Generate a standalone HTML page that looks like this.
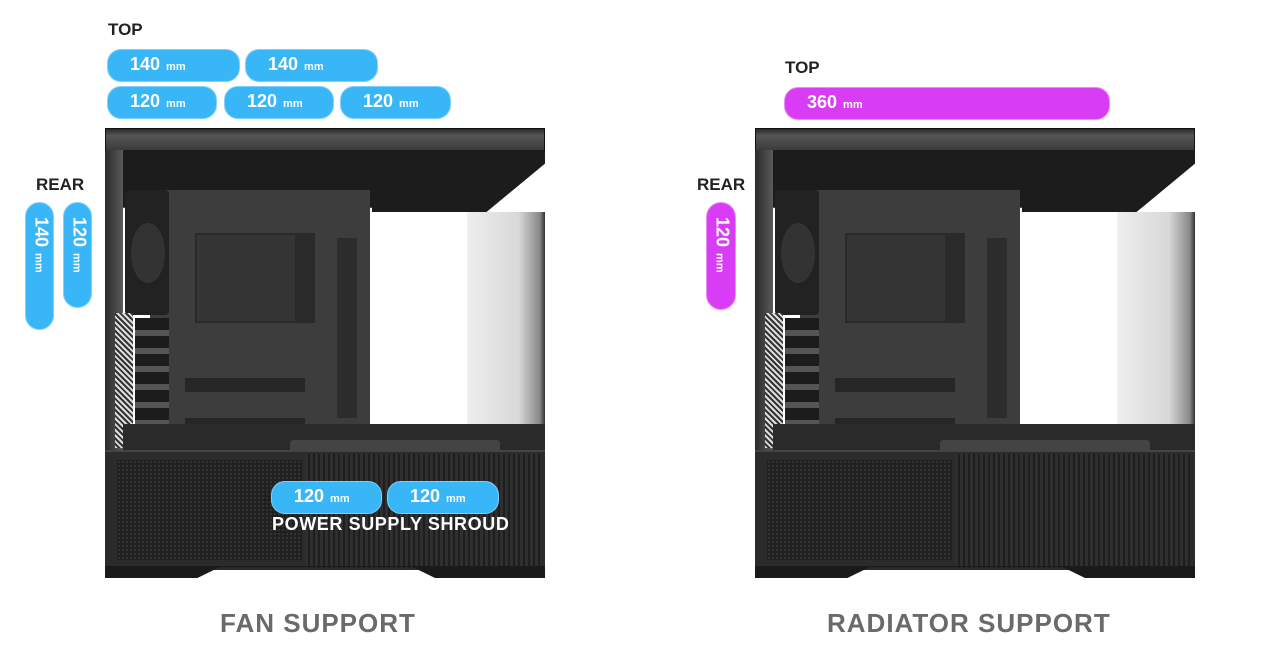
<!DOCTYPE html>
<html><head><meta charset="utf-8"><style>
*{margin:0;padding:0;box-sizing:border-box}
body{width:1280px;height:658px;background:#fff;position:relative;overflow:hidden;font-family:"Liberation Sans",Arial,sans-serif}
.a{position:absolute}
.lbl{position:absolute;font-weight:bold;font-size:17px;color:#222}
.pill{position:absolute;background:#38b6f8;border-radius:14px;color:#fff;font-weight:bold;font-size:18px;line-height:28px;padding-left:22px;border:1px solid #7fd0fb}
.pill small{font-size:11px;margin-left:6px}
.vp{position:absolute;background:#38b6f8;border-radius:15px;border:1px solid #7fd0fb}
.vp span{position:absolute;left:50%;top:14px;transform-origin:0 0;transform:rotate(90deg) translateY(-50%);white-space:nowrap;color:#fff;font-weight:bold;font-size:18px;line-height:20px}
.vp span small{font-size:11px;margin-left:6px}
.case{position:absolute;top:128px;width:440px;height:452px}
.big{position:absolute;top:608px;font-size:26px;font-weight:bold;color:#6a6a6a;letter-spacing:1px}
</style></head><body>

<div class="lbl" style="left:108px;top:20px">TOP</div>
<div class="pill" style="left:107px;top:49px;width:133px">140<small>mm</small></div>
<div class="pill" style="left:245px;top:49px;width:133px">140<small>mm</small></div>
<div class="pill" style="left:107px;top:86px;width:110px">120<small>mm</small></div>
<div class="pill" style="left:224px;top:86px;width:110px">120<small>mm</small></div>
<div class="pill" style="left:340px;top:86px;width:111px">120<small>mm</small></div>
<div class="lbl" style="left:36px;top:175px">REAR</div>
<div class="vp" style="left:25px;top:202px;width:29px;height:128px"><span>140<small>mm</small></span></div>
<div class="vp" style="left:63px;top:202px;width:29px;height:106px"><span>120<small>mm</small></span></div>

<div class="lbl" style="left:785px;top:58px">TOP</div>
<div class="pill" style="left:784px;top:87px;width:326px;background:#d93cf5;border-color:#e98cfa">360<small>mm</small></div>
<div class="lbl" style="left:697px;top:175px">REAR</div>
<div class="vp" style="left:706px;top:202px;width:30px;height:108px;background:#d93cf5;border-color:#e98cfa"><span>120<small>mm</small></span></div>

<div class="case" style="left:105px">
 <div class="a" style="left:0;top:0;width:440px;height:24px;background:linear-gradient(#2a2a2a,#555 30%,#3a3a3a);border:1px solid #111"></div>
 <div class="a" style="left:0;top:22px;width:18px;height:320px;background:linear-gradient(90deg,#2a2a2a,#5a5a5a)"></div>
 <div class="a" style="left:18px;top:22px;width:422px;height:68px;background:#1c1c1c;clip-path:polygon(0 0,100% 0,100% 20%,86% 92%,59% 92%,59% 85%,0 85%)"></div>
 <div class="a" style="left:45px;top:62px;width:220px;height:260px;background:#3d3d3d"></div>
 <div class="a" style="left:90px;top:105px;width:118px;height:90px;background:#353535;border:2px solid #2a2a2a"></div>
 <div class="a" style="left:80px;top:250px;width:120px;height:14px;background:#262626"></div>
 <div class="a" style="left:80px;top:290px;width:120px;height:14px;background:#262626"></div>
 <div class="a" style="left:190px;top:105px;width:20px;height:90px;background:#2a2a2a"></div>
 <div class="a" style="left:232px;top:110px;width:20px;height:180px;background:#2c2c2c"></div>
 <div class="a" style="left:265px;top:84px;width:175px;height:212px;background:linear-gradient(90deg,#fff 0,#fff 55%,#eee 56%,#d8d8d8 85%,#888 97%,#333 100%)"></div>
 <div class="a" style="left:20px;top:62px;width:44px;height:125px;background:#222;border-radius:4px"></div>
 <div class="a" style="left:26px;top:95px;width:34px;height:60px;border-radius:50%;background:#333"></div>
 <div class="a" style="left:10px;top:185px;width:18px;height:135px;background:repeating-linear-gradient(45deg,#ddd 0 2px,#333 2px 4px)"></div>
 <div class="a" style="left:30px;top:190px;width:34px;height:130px;background:repeating-linear-gradient(#1c1c1c 0 12px,#555 12px 18px)"></div>
 <div class="a" style="left:18px;top:296px;width:422px;height:30px;background:#2a2a2a"></div>
 <div class="a" style="left:185px;top:312px;width:210px;height:24px;background:#444;border-radius:3px"></div>
 <div class="a" style="left:0;top:322px;width:440px;height:120px;background:#2b2b2b;border-top:2px solid #444"></div>
 <div class="a" style="left:200px;top:326px;width:235px;height:114px;background:repeating-linear-gradient(90deg,#2f2f2f 0 3px,#1e1e1e 3px 5px)"></div>
 <div class="a" style="left:12px;top:332px;width:185px;height:100px;background:radial-gradient(#333 1px,#1e1e1e 1.5px) 0 0/4px 4px"></div>
 <div class="a" style="left:0;top:438px;width:440px;height:12px;background:#1a1a1a;clip-path:polygon(0 0,100% 0,100% 100%,75% 100%,70% 10%,26% 10%,21% 100%,0 100%)"></div>
</div>

<div class="case" style="left:755px">
 <div class="a" style="left:0;top:0;width:440px;height:24px;background:linear-gradient(#2a2a2a,#555 30%,#3a3a3a);border:1px solid #111"></div>
 <div class="a" style="left:0;top:22px;width:18px;height:320px;background:linear-gradient(90deg,#2a2a2a,#5a5a5a)"></div>
 <div class="a" style="left:18px;top:22px;width:422px;height:68px;background:#1c1c1c;clip-path:polygon(0 0,100% 0,100% 20%,86% 92%,59% 92%,59% 85%,0 85%)"></div>
 <div class="a" style="left:45px;top:62px;width:220px;height:260px;background:#3d3d3d"></div>
 <div class="a" style="left:90px;top:105px;width:118px;height:90px;background:#353535;border:2px solid #2a2a2a"></div>
 <div class="a" style="left:80px;top:250px;width:120px;height:14px;background:#262626"></div>
 <div class="a" style="left:80px;top:290px;width:120px;height:14px;background:#262626"></div>
 <div class="a" style="left:190px;top:105px;width:20px;height:90px;background:#2a2a2a"></div>
 <div class="a" style="left:232px;top:110px;width:20px;height:180px;background:#2c2c2c"></div>
 <div class="a" style="left:265px;top:84px;width:175px;height:212px;background:linear-gradient(90deg,#fff 0,#fff 55%,#eee 56%,#d8d8d8 85%,#888 97%,#333 100%)"></div>
 <div class="a" style="left:20px;top:62px;width:44px;height:125px;background:#222;border-radius:4px"></div>
 <div class="a" style="left:26px;top:95px;width:34px;height:60px;border-radius:50%;background:#333"></div>
 <div class="a" style="left:10px;top:185px;width:18px;height:135px;background:repeating-linear-gradient(45deg,#ddd 0 2px,#333 2px 4px)"></div>
 <div class="a" style="left:30px;top:190px;width:34px;height:130px;background:repeating-linear-gradient(#1c1c1c 0 12px,#555 12px 18px)"></div>
 <div class="a" style="left:18px;top:296px;width:422px;height:30px;background:#2a2a2a"></div>
 <div class="a" style="left:185px;top:312px;width:210px;height:24px;background:#444;border-radius:3px"></div>
 <div class="a" style="left:0;top:322px;width:440px;height:120px;background:#2b2b2b;border-top:2px solid #444"></div>
 <div class="a" style="left:200px;top:326px;width:235px;height:114px;background:repeating-linear-gradient(90deg,#2f2f2f 0 3px,#1e1e1e 3px 5px)"></div>
 <div class="a" style="left:12px;top:332px;width:185px;height:100px;background:radial-gradient(#333 1px,#1e1e1e 1.5px) 0 0/4px 4px"></div>
 <div class="a" style="left:0;top:438px;width:440px;height:12px;background:#1a1a1a;clip-path:polygon(0 0,100% 0,100% 100%,75% 100%,70% 10%,26% 10%,21% 100%,0 100%)"></div>
</div>

<div class="pill" style="left:271px;top:481px;width:111px">120<small>mm</small></div>
<div class="pill" style="left:387px;top:481px;width:112px">120<small>mm</small></div>
<div class="a" style="left:272px;top:514px;color:#fff;font-weight:bold;font-size:18px;letter-spacing:0.6px;white-space:nowrap">POWER SUPPLY SHROUD</div>

<div class="big" style="left:220px">FAN SUPPORT</div>
<div class="big" style="left:827px">RADIATOR SUPPORT</div>
</body></html>
